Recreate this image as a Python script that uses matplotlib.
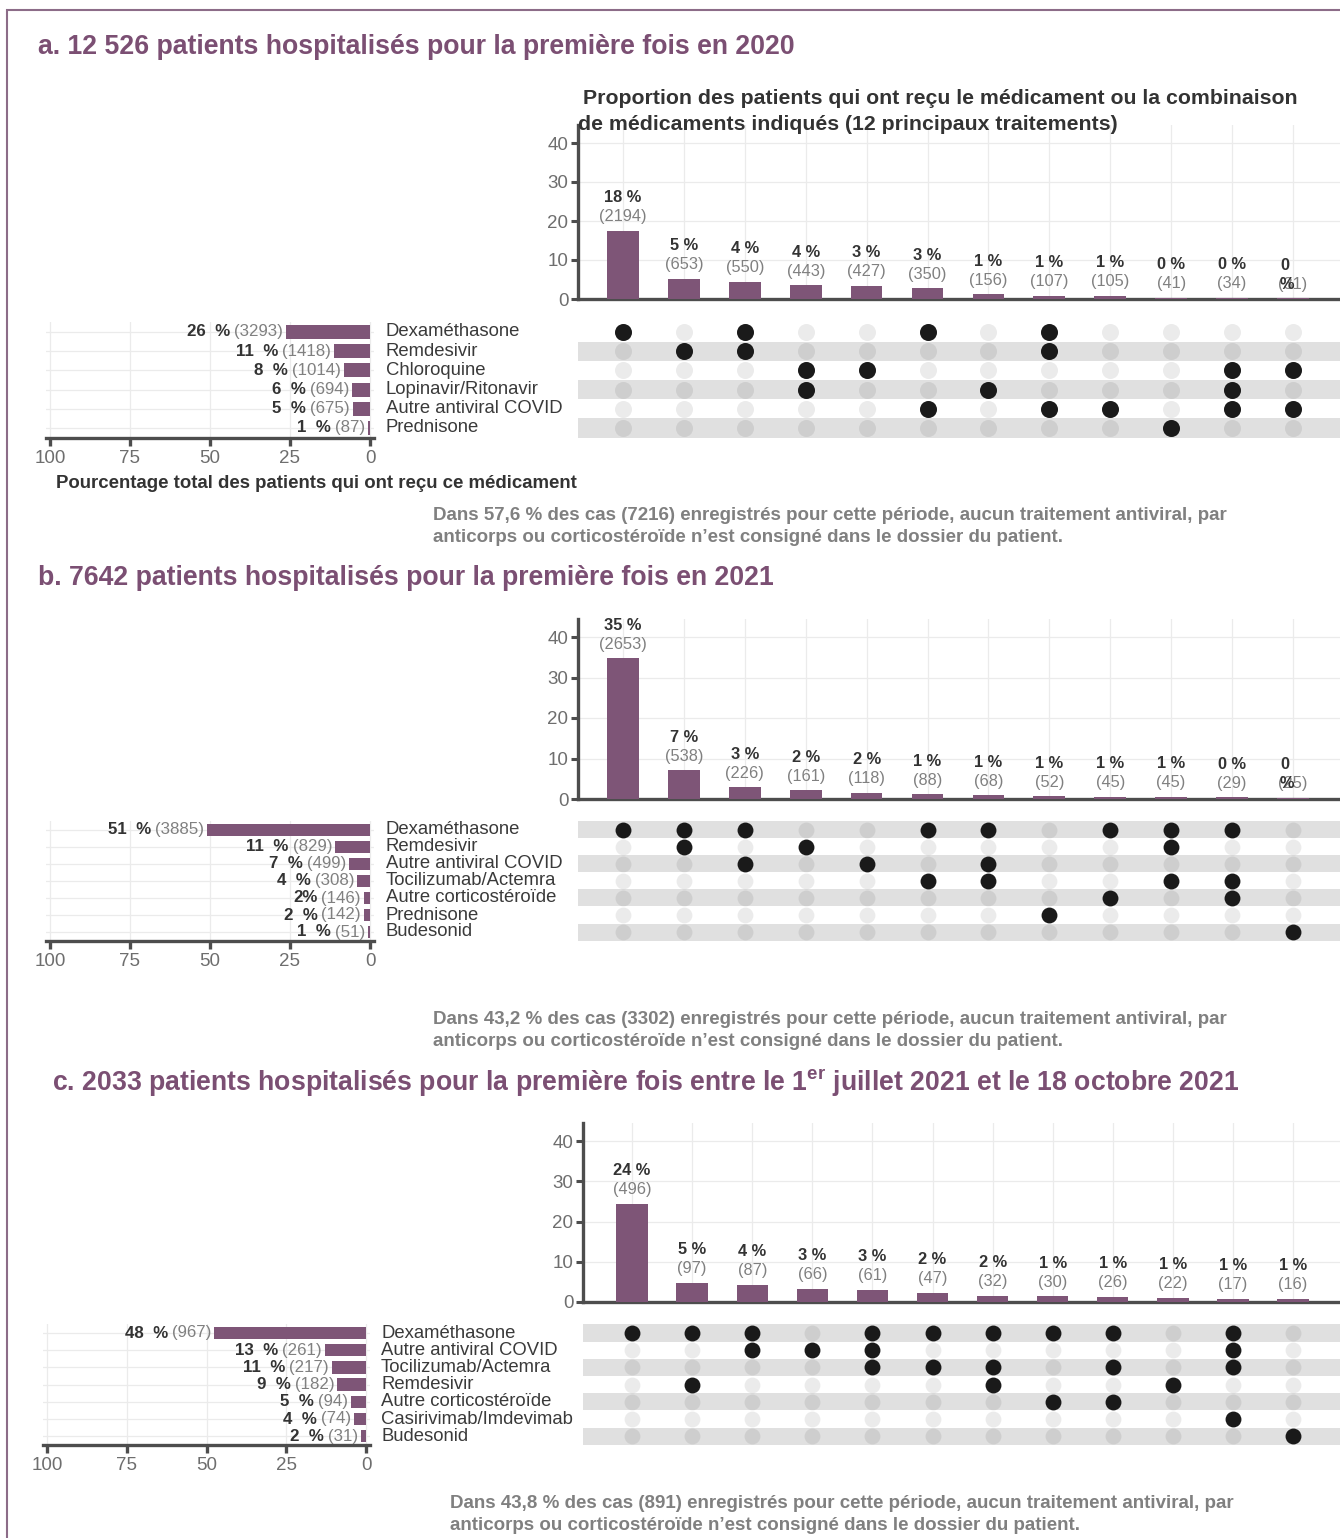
import matplotlib
matplotlib.use('Agg')
import matplotlib.pyplot as plt
from matplotlib.patches import Rectangle
from matplotlib.transforms import blended_transform_factory
import numpy as np

plt.rcParams['font.family'] = ['Liberation Sans', 'DejaVu Sans']
plt.rcParams['mathtext.fontset'] = 'custom'
plt.rcParams['mathtext.rm'] = 'Liberation Sans:bold'
plt.rcParams['mathtext.it'] = 'Liberation Sans:bold'
plt.rcParams['mathtext.bf'] = 'Liberation Sans:bold'

# ---------------- data ----------------
a_title = "a. 12 526 patients hospitalisés pour la première fois en 2020"
a_total = 12526
a_drugs = ["Dexaméthasone", "Remdesivir", "Chloroquine", "Lopinavir/Ritonavir",
           "Autre antiviral COVID", "Prednisone"]
a_drug_counts = [3293, 1418, 1014, 694, 675, 87]
a_drug_pct = ["26 %", "11 %", "8 %", "6 %", "5 %", "1 %"]
a_combo_counts = [2194, 653, 550, 443, 427, 350, 156, 107, 105, 41, 34, 31]
a_combo_pct = ["18 %", "5 %", "4 %", "4 %", "3 %", "3 %", "1 %", "1 %", "1 %", "0 %", "0 %", "0\n%"]
a_combo_sets = [[0], [1], [0, 1], [2, 3], [2], [0, 4], [3], [0, 1, 4], [4], [5], [2, 3, 4], [2, 4]]
a_note = ["Dans 57,6 % des cas (7216) enregistrés pour cette période, aucun traitement antiviral, par",
          "anticorps ou corticostéroïde n’est consigné dans le dossier du patient."]

b_title = "b. 7642 patients hospitalisés pour la première fois en 2021"
b_total = 7642
b_drugs = ["Dexaméthasone", "Remdesivir", "Autre antiviral COVID", "Tocilizumab/Actemra",
           "Autre corticostéroïde", "Prednisone", "Budesonid"]
b_drug_counts = [3885, 829, 499, 308, 146, 142, 51]
b_drug_pct = ["51 %", "11 %", "7 %", "4 %", "2%", "2 %", "1 %"]
b_combo_counts = [2653, 538, 226, 161, 118, 88, 68, 52, 45, 45, 29, 25]
b_combo_pct = ["35 %", "7 %", "3 %", "2 %", "2 %", "1 %", "1 %", "1 %", "1 %", "1 %", "0 %", "0\n%"]
b_combo_sets = [[0], [0, 1], [0, 2], [1], [2], [0, 3], [0, 2, 3], [5], [0, 4], [0, 1, 3], [0, 3, 4], [6]]
b_note = ["Dans 43,2 % des cas (3302) enregistrés pour cette période, aucun traitement antiviral, par",
          "anticorps ou corticostéroïde n’est consigné dans le dossier du patient."]

c_title = r"c. 2033 patients hospitalisés pour la première fois entre le 1$^{\mathrm{er}}$ juillet 2021 et le 18 octobre 2021"
c_total = 2033
c_drugs = ["Dexaméthasone", "Autre antiviral COVID", "Tocilizumab/Actemra", "Remdesivir",
           "Autre corticostéroïde", "Casirivimab/Imdevimab", "Budesonid"]
c_drug_counts = [967, 261, 217, 182, 94, 74, 31]
c_drug_pct = ["48 %", "13 %", "11 %", "9 %", "5 %", "4 %", "2 %"]
c_combo_counts = [496, 97, 87, 66, 61, 47, 32, 30, 26, 22, 17, 16]
c_combo_pct = ["24 %", "5 %", "4 %", "3 %", "3 %", "2 %", "2 %", "1 %", "1 %", "1 %", "1 %", "1 %"]
c_combo_sets = [[0], [0, 3], [0, 1], [1], [0, 1, 2], [0, 2], [0, 2, 3], [0, 4], [0, 2, 4], [3], [0, 1, 2, 5], [6]]
c_note = ["Dans 43,8 % des cas (891) enregistrés pour cette période, aucun traitement antiviral, par",
          "anticorps ou corticostéroïde n’est consigné dans le dossier du patient."]

bar_title = ["Proportion des patients qui ont reçu le médicament ou la combinaison",
             "de médicaments indiqués (12 principaux traitements)"]
left_xlabel = "Pourcentage total des patients qui ont reçu ce médicament"
top_yticks = [0, 10, 20, 30, 40]
left_xticks = [100, 75, 50, 25, 0]

# ---------------- style ----------------
W, H = 1340, 1538
PURPLE = '#7E5577'
TITLE_C = '#7B4F73'
DARK = '#333333'
GREY = '#808080'
TICKC = '#6E6E6E'
AXIS = '#4D4D4D'
GRID = '#EBEBEB'
BAND = '#E0E0E0'

fig = plt.figure(figsize=(W / 100, H / 100), dpi=100)
fig.patch.set_facecolor('white')


def px_axes(x0, y0, x1, y1):
    return fig.add_axes([x0 / W, 1 - y1 / H, (x1 - x0) / W, (y1 - y0) / H])


def panel(title, title_xy, total, drugs, drug_counts, drug_pct, combo_counts, combo_pct,
          combo_sets, note, note_xy, g):
    fig.text(title_xy[0] / W, 1 - title_xy[1] / H, title, color=TITLE_C, fontsize=19.2,
             fontweight='bold', ha='left', va='center')

    ncol = len(combo_counts)
    nrow = len(drugs)
    xcols = np.arange(1, ncol + 1)
    xl = (1 - (g['col0'] - g['x0']) / g['cs'], 1 + (W - g['col0']) / g['cs'])
    ytop = 44.5

    # ---- top bar chart ----
    top_px = g['yzero'] - ytop * g['ppu']
    ax = px_axes(g['x0'], top_px, W, g['yzero'])
    vals = np.array(combo_counts) / total * 100
    ax.bar(xcols, vals, width=0.52, color=PURPLE, zorder=3)
    ax.set_xlim(*xl)
    ax.set_ylim(0, ytop)
    ax.set_xticks(xcols)
    ax.set_xticklabels([])
    ax.set_yticks(top_yticks)
    ax.set_axisbelow(True)
    ax.grid(True, color=GRID, lw=0.9)
    ax.tick_params(axis='x', length=0)
    ax.tick_params(axis='y', length=5, width=2.2, color=AXIS, labelcolor=TICKC,
                   labelsize=13.5, pad=2)
    for s in ['top', 'right']:
        ax.spines[s].set_visible(False)
    for s in ['left', 'bottom']:
        ax.spines[s].set_color(AXIS)
        ax.spines[s].set_linewidth(2.4)
    for x, v, c, p in zip(xcols, vals, combo_counts, combo_pct):
        ax.annotate(f"({c})", (x, v), xytext=(0, 14), textcoords='offset pixels',
                    ha='center', va='center', fontsize=11.8, color=GREY)
        if '\n' in p:
            l1, l2 = p.split('\n')
            ax.annotate(l1, (x, v), xytext=(-8, 33), textcoords='offset pixels',
                        ha='center', va='center', fontsize=11.8, color=DARK, fontweight='bold')
            ax.annotate(l2, (x, v), xytext=(-6, 14), textcoords='offset pixels',
                        ha='center', va='center', fontsize=11.8, color=DARK, fontweight='bold')
        else:
            ax.annotate(p, (x, v), xytext=(0, 33), textcoords='offset pixels',
                        ha='center', va='center', fontsize=11.8, color=DARK, fontweight='bold')
    if g.get('bar_title'):
        fig.text(583 / W, 1 - 99 / H, bar_title[0], color=DARK, fontsize=15.3,
                 fontweight='bold', ha='left', va='center')
        fig.text(578 / W, 1 - 125 / H, bar_title[1], color=DARK, fontsize=15.3,
                 fontweight='bold', ha='left', va='center')

    # ---- matrix ----
    m_y0 = g['row0'] - g['rs'] / 2
    m_y1 = g['row0'] + (nrow - 0.5) * g['rs']
    am = px_axes(g['x0'], m_y0, W, m_y1)
    am.set_xlim(*xl)
    am.set_ylim(nrow - 0.5, -0.5)
    am.axis('off')
    for r in range(nrow):
        if r % 2 == g['band_parity']:
            am.axhspan(r - 0.5, r + 0.5, color=BAND, lw=0, zorder=0)
    gx, gy = np.meshgrid(xcols, np.arange(nrow))
    am.scatter(gx.ravel(), gy.ravel(), s=g['dot'], color='black', alpha=0.08, lw=0, zorder=2)
    ax_on = [xcols[i] for i, st in enumerate(combo_sets) for _ in st]
    ay_on = [r for st in combo_sets for r in st]
    am.scatter(ax_on, ay_on, s=g['dot'], color='#1A1A1A', lw=0, zorder=3)

    # ---- left bar chart ----
    al = px_axes(g['lx0'], m_y0, g['lx1'], m_y1)
    lppu = (g['l0'] - g['l100']) / 100.0
    al.set_xlim(100 + (g['l100'] - g['lx0']) / lppu, -(g['lx1'] - g['l0']) / lppu)
    al.set_ylim(nrow - 0.5, -0.5)
    lv = np.array(drug_counts) / total * 100
    rows = np.arange(nrow)
    al.barh(rows, lv, height=0.72, color=PURPLE, zorder=3)
    al.set_xticks(left_xticks)
    al.set_xticklabels([str(t) for t in left_xticks])
    al.set_yticks(rows)
    al.set_yticklabels([])
    al.set_axisbelow(True)
    al.grid(True, color=GRID, lw=0.9)
    al.tick_params(axis='y', length=0)
    al.tick_params(axis='x', length=6, width=2.4, color=AXIS, labelcolor=TICKC,
                   labelsize=13.5, pad=3)
    for s in ['top', 'right', 'left']:
        al.spines[s].set_visible(False)
    al.spines['bottom'].set_color(AXIS)
    al.spines['bottom'].set_linewidth(2.4)
    for r, v, c, p in zip(rows, lv, drug_counts, drug_pct):
        t = al.annotate(f"({c})", (v, r), xytext=(-3, 0), textcoords='offset pixels',
                        ha='right', va='center', fontsize=12.2, color=GREY)
        al.annotate(p.replace(' %', '  %'), xy=(0, 0.5), xycoords=t, xytext=(-4, 0),
                    textcoords='offset pixels', ha='right', va='center', fontsize=12.2,
                    color=DARK, fontweight='bold')
    tr = blended_transform_factory(fig.transFigure, al.transData)
    for r, d in zip(rows, drugs):
        al.text(g['lab_x'] / W, r, d, transform=tr, ha='left', va='center',
                fontsize=13.3, color='#3A3A3A', clip_on=False)
    if g.get('xlabel'):
        fig.text(316 / W, 1 - 483 / H, left_xlabel, color=DARK, fontsize=13.4,
                 fontweight='bold', ha='center', va='center')

    # ---- note ----
    for k, line in enumerate(note):
        fig.text(note_xy[0] / W, 1 - (note_xy[1] + 22 * k) / H, line, color=GREY,
                 fontsize=13.5, fontweight='bold', ha='left', va='center')


ga = dict(x0=578, yzero=299, ppu=3.9, col0=623, cs=60.9, row0=332, rs=19.2,
          band_parity=1, dot=150, lx0=46, lx1=374, l100=50, l0=370, lab_x=386,
          bar_title=True, xlabel=True)
gb = dict(x0=578, yzero=799, ppu=4.05, col0=623, cs=60.9, row0=830, rs=17.0,
          band_parity=0, dot=130, lx0=46, lx1=374, l100=50, l0=370, lab_x=386)
gc = dict(x0=583, yzero=1302, ppu=4.025, col0=632, cs=60.1, row0=1333, rs=17.2,
          band_parity=0, dot=130, lx0=43, lx1=370, l100=47, l0=366, lab_x=381)

panel(a_title, (38, 47), a_total, a_drugs, a_drug_counts, a_drug_pct, a_combo_counts,
      a_combo_pct, a_combo_sets, a_note, (433, 515), ga)
panel(b_title, (38, 578), b_total, b_drugs, b_drug_counts, b_drug_pct, b_combo_counts,
      b_combo_pct, b_combo_sets, b_note, (433, 1019), gb)
panel(c_title, (52, 1082), c_total, c_drugs, c_drug_counts, c_drug_pct, c_combo_counts,
      c_combo_pct, c_combo_sets, c_note, (450, 1503), gc)

# outer frame
fig.patches.append(Rectangle((7 / W, -0.01), 1.2, 1 - 10 / H + 0.01, transform=fig.transFigure,
                             fill=False, edgecolor='#8C6C88', lw=1.5, zorder=10))

fig.savefig('out.png', dpi=100, facecolor='white')
